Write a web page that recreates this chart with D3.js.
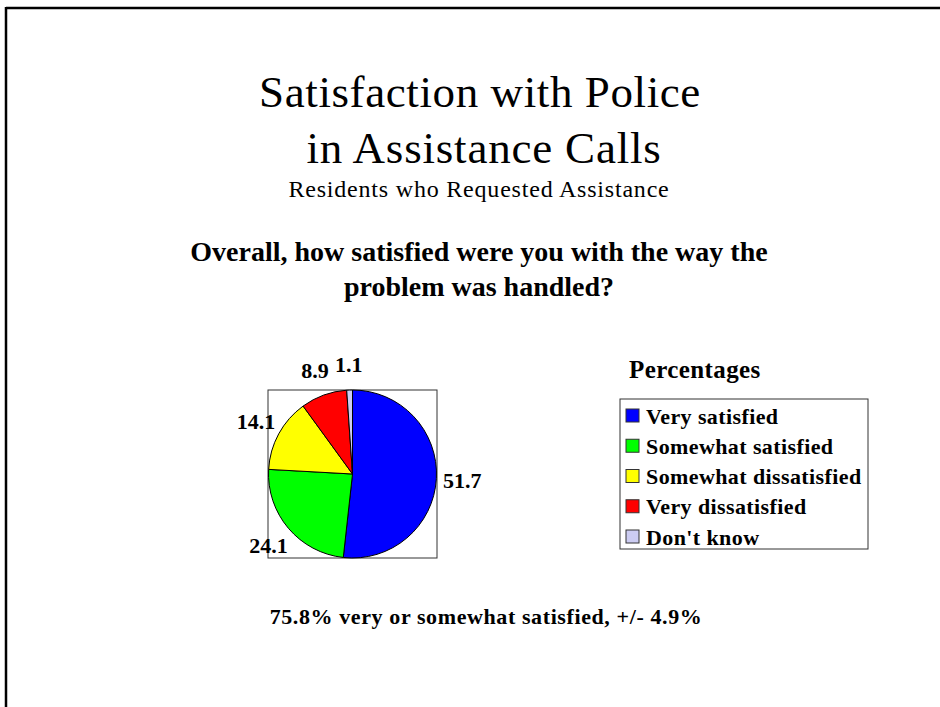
<!DOCTYPE html>
<html>
<head>
<meta charset="utf-8">
<script src="https://cdn.jsdelivr.net/npm/d3@7"></script>
<style>
  html, body { margin: 0; padding: 0; background: #fff; }
  svg { display: block; }
  text { font-family: "Liberation Serif", "Times New Roman", serif; fill: #000; }
</style>
</head>
<body>
<svg id="chart" width="940" height="707"></svg>
<script>
// Survey responses (percent of residents who requested assistance)
const categories = ["Very satisfied", "Somewhat satisfied", "Somewhat dissatisfied", "Very dissatisfied", "Don't know"];
const values = [51.7, 24.1, 14.1, 8.9, 1.1];
const colors = ["#0000ff", "#00ff00", "#ffff00", "#ff0000", "#ccccf2"];
const valueLabels = ["51.7", "24.1", "14.1", "8.9", "1.1"];

const titleLines = ["Satisfaction with Police", "in Assistance Calls"];
const subtitle = "Residents who Requested Assistance";
const questionLines = ["Overall, how satisfied were you with the way the", "problem was handled?"];
const legendTitle = "Percentages";
const footnote = "75.8% very or somewhat satisfied, +/- 4.9%";

const svg = d3.select("#chart");

// Slide frame (top and left edges)
svg.append("line").attr("x1", 6).attr("y1", 8).attr("x2", 940).attr("y2", 8)
  .attr("stroke", "#000").attr("stroke-width", 2.5);
svg.append("line").attr("x1", 6).attr("y1", 7).attr("x2", 6).attr("y2", 707)
  .attr("stroke", "#000").attr("stroke-width", 2.5);

// Title block
svg.append("text").attr("x", 480).attr("y", 107).attr("text-anchor", "middle")
  .style("font-size", "45px").style("letter-spacing", "0.6px").text(titleLines[0]);
svg.append("text").attr("x", 484).attr("y", 163).attr("text-anchor", "middle")
  .style("font-size", "45px").style("letter-spacing", "0.8px").text(titleLines[1]);
svg.append("text").attr("x", 479).attr("y", 197).attr("text-anchor", "middle")
  .style("font-size", "24px").style("letter-spacing", "0.8px").text(subtitle);

// Question
questionLines.forEach((line, i) => {
  svg.append("text").attr("x", 479).attr("y", 261 + i * 35).attr("text-anchor", "middle")
    .style("font-size", "28px").style("font-weight", "bold").text(line);
});

// Pie plot area
const plot = { x: 268, y: 390, w: 169, h: 168 };
svg.append("rect").attr("x", plot.x).attr("y", plot.y).attr("width", plot.w).attr("height", plot.h)
  .attr("fill", "none").attr("stroke", "#333").attr("stroke-width", 1);

const cx = plot.x + plot.w / 2, cy = plot.y + plot.h / 2;
const radius = 84;
const pie = d3.pie().sort(null).value(d => d.value);
const data = categories.map((c, i) => ({ name: c, value: values[i], color: colors[i], label: valueLabels[i] }));
const arcs = pie(data);
const arc = d3.arc().innerRadius(0).outerRadius(radius);
const labelArc = d3.arc().innerRadius(radius + 26).outerRadius(radius + 26);

const g = svg.append("g").attr("transform", `translate(${cx},${cy})`);
g.selectAll("path").data(arcs).join("path")
  .attr("d", arc).attr("fill", d => d.data.color)
  .attr("stroke", "#000").attr("stroke-width", 1);

g.selectAll("text.val").data(arcs).join("text").attr("class", "val")
  .attr("transform", d => `translate(${labelArc.centroid(d)})`)
  .attr("text-anchor", "middle").attr("dy", "0.35em")
  .style("font-size", "22px").style("font-weight", "bold")
  .text(d => d.data.label);

// Legend
svg.append("text").attr("x", 629).attr("y", 378)
  .style("font-size", "25px").style("font-weight", "bold").style("letter-spacing", "0.4px")
  .text(legendTitle);
const lg = { x: 620, y: 399, w: 248, h: 150 };
svg.append("rect").attr("x", lg.x).attr("y", lg.y).attr("width", lg.w).attr("height", lg.h)
  .attr("fill", "#fff").attr("stroke", "#333").attr("stroke-width", 1);
const rowY = d3.scalePoint().domain(categories).range([416, 537]);
const rows = svg.selectAll("g.row").data(data).join("g").attr("class", "row")
  .attr("transform", d => `translate(${lg.x}, ${rowY(d.name)})`);
rows.append("rect").attr("x", 6).attr("y", -7).attr("width", 13).attr("height", 13)
  .attr("fill", d => d.color).attr("stroke", "#333").attr("stroke-width", 1);
rows.append("text").attr("x", 26).attr("y", 0).attr("dy", "0.35em")
  .style("font-size", "22px").style("font-weight", "bold").style("letter-spacing", "0.4px")
  .text(d => d.name);

// Footnote
svg.append("text").attr("x", 486).attr("y", 624).attr("text-anchor", "middle")
  .style("font-size", "22px").style("font-weight", "bold").style("letter-spacing", "0.6px")
  .text(footnote);
</script>
</body>
</html>
